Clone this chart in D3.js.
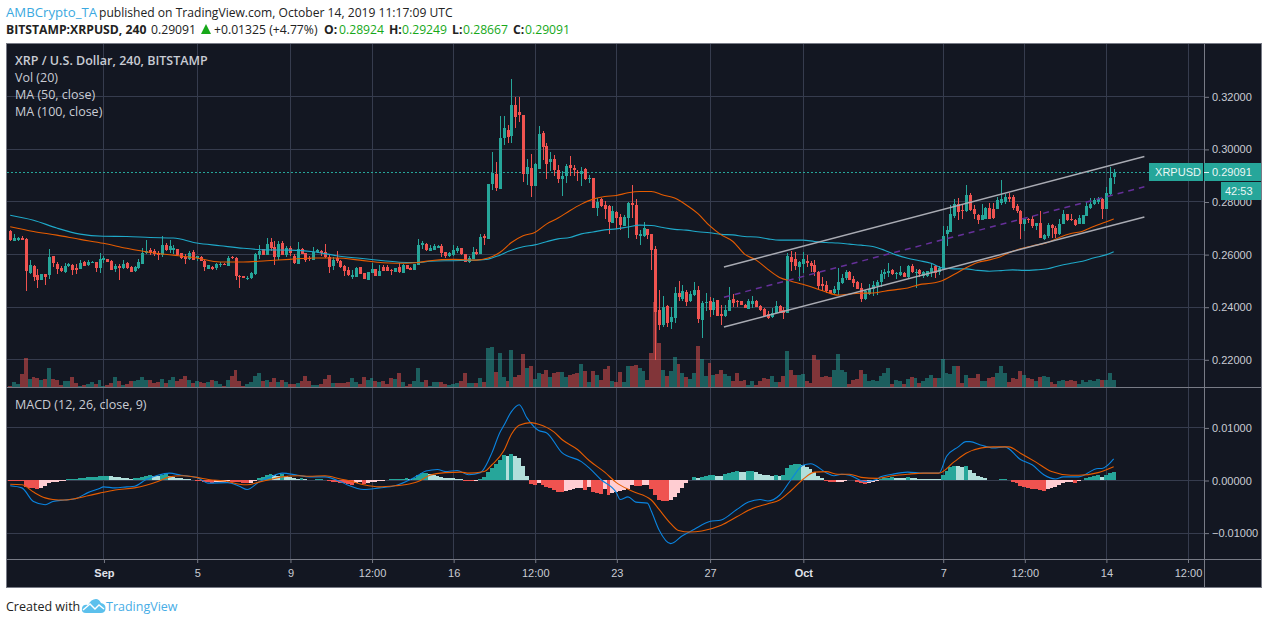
<!DOCTYPE html>
<html>
<head>
<meta charset="utf-8">
<title>XRPUSD</title>
<script src="https://cdn.jsdelivr.net/npm/d3@7/dist/d3.min.js"></script>
<style>
  html, body { margin: 0; padding: 0; background: #fff; }
  svg { display: block; }
  text { font-family: "Open Sans", sans-serif; }
  .axis text { font-family: "Liberation Sans", Arial, sans-serif; font-size: 11px; fill: #c9ccd4; }
  .axis .domain { display: none; }
  .axis line { stroke: #787b86; }
</style>
</head>
<body>
<div id="chart"></div>
<script>
// candles, 4h bars
const opens = [
  .2689,.2651,.2654,.2662,.2658,.2528,.2556,.2522,.2503,.2524,
  .2519,.2594,.2563,.2547,.2533,.2553,.2559,.2548,.2544,.2571,
  .2559,.2567,.2571,.2548,.2576,.2581,.2575,.2544,.2556,.2548,
  .2567,.2552,.2537,.2548,.2563,.2605,.2616,.2613,.2605,.2597,
  .2635,.2616,.2616,.2620,.2604,.2590,.2582,.2609,.2586,.2590,
  .2575,.2544,.2552,.2548,.2559,.2563,.2556,.2590,.2586,.2518,
  .2518,.2508,.2508,.2524,.2597,.2620,.2597,.2647,.2628,.2590,
  .2643,.2597,.2624,.2594,.2563,.2620,.2605,.2587,.2578,.2609,
  .2613,.2609,.2590,.2556,.2586,.2575,.2554,.2541,.2514,.2514,
  .2552,.2529,.2503,.2529,.2544,.2518,.2552,.2552,.2541,.2533,
  .2552,.2529,.2559,.2549,.2541,.2559,.2635,.2639,.2613,.2616,
  .2625,.2632,.2609,.2594,.2597,.2613,.2624,.2601,.2571,.2582,
  .2609,.2601,.2670,.2658,.2867,.2905,.2848,.3042,.3072,.3049,
  .3167,.3141,.3129,.2905,.2928,.2860,.2924,.3061,.3011,.2951,
  .2962,.2920,.2886,.2898,.2939,.2927,.2913,.2905,.2924,.2889,
  .2890,.2776,.2810,.2787,.2784,.2719,.2761,.2742,.2708,.2738,
  .2795,.2787,.2670,.2670,.2696,.2677,.2620,.2389,.2332,.2404,
  .2343,.2358,.2453,.2430,.2457,.2423,.2446,.2465,.2351,.2415,
  .2423,.2389,.2427,.2373,.2366,.2385,.2430,.2423,.2423,.2408,
  .2392,.2411,.2423,.2404,.2392,.2373,.2362,.2377,.2404,.2389,
  .2377,.2590,.2582,.2552,.2563,.2575,.2567,.2559,.2533,.2487,
  .2484,.2465,.2453,.2465,.2491,.2510,.2533,.2506,.2495,.2472,
  .2430,.2449,.2468,.2480,.2495,.2525,.2529,.2540,.2525,.2522,
  .2529,.2514,.2556,.2529,.2540,.2518,.2518,.2533,.2556,.2533,
  .2544,.2677,.2685,.2746,.2791,.2766,.2762,.2823,.2770,.2747,
  .2730,.2735,.2777,.2773,.2770,.2796,.2800,.2819,.2819,.2781,
  .2762,.2716,.2735,.2732,.2705,.2720,.2656,.2667,.2709,.2701,
  .2675,.2713,.2751,.2732,.2728,.2713,.2716,.2743,.2777,.2792,
  .2800,.2811,.2772,.2829,.28924
];
const highs = [
  .2691,.2676,.2666,.2670,.2661,.2577,.2559,.2543,.2524,.2524,
  .2620,.2594,.2570,.2556,.2568,.2567,.2562,.2562,.2578,.2575,
  .2578,.2572,.2571,.2605,.2591,.2581,.2577,.2563,.2563,.2578,
  .2571,.2554,.2556,.2582,.2624,.2654,.2624,.2620,.2613,.2670,
  .2643,.2654,.2635,.2620,.2606,.2600,.2613,.2616,.2594,.2594,
  .2578,.2559,.2556,.2567,.2571,.2567,.2594,.2594,.2590,.2522,
  .2518,.2518,.2533,.2605,.2635,.2620,.2662,.2662,.2651,.2651,
  .2651,.2632,.2632,.2600,.2647,.2623,.2605,.2594,.2628,.2619,
  .2616,.2639,.2597,.2590,.2613,.2578,.2557,.2552,.2541,.2552,
  .2552,.2529,.2533,.2567,.2544,.2559,.2559,.2557,.2544,.2548,
  .2567,.2562,.2559,.2552,.2563,.2658,.2651,.2644,.2635,.2638,
  .2635,.2638,.2609,.2609,.2635,.2632,.2625,.2601,.2594,.2628,
  .2620,.2676,.2676,.2867,.2989,.2951,.3125,.3125,.3091,.3266,
  .3198,.3198,.3129,.2962,.2981,.2947,.3087,.3068,.3023,.2989,
  .2977,.2939,.2917,.2943,.2973,.2939,.2920,.2932,.2927,.2901,
  .2890,.2814,.2814,.2803,.2787,.2784,.2765,.2753,.2749,.2799,
  .2863,.2810,.2692,.2723,.2696,.2677,.2632,.2465,.2442,.2408,
  .2400,.2476,.2499,.2484,.2465,.2461,.2495,.2480,.2423,.2453,
  .2438,.2434,.2427,.2408,.2408,.2476,.2449,.2427,.2423,.2410,
  .2430,.2442,.2425,.2408,.2395,.2385,.2396,.2423,.2406,.2400,
  .2605,.2613,.2609,.2575,.2609,.2597,.2575,.2578,.2537,.2514,
  .2499,.2465,.2480,.2548,.2525,.2540,.2537,.2518,.2499,.2491,
  .2465,.2487,.2499,.2503,.2540,.2544,.2567,.2544,.2533,.2556,
  .2532,.2559,.2563,.2544,.2544,.2537,.2537,.2567,.2559,.2556,
  .2708,.2708,.2787,.2810,.2814,.2789,.2861,.2834,.2785,.2751,
  .2789,.2780,.2796,.2796,.2819,.2880,.2829,.2833,.2823,.2789,
  .2766,.2739,.2739,.2743,.2720,.2762,.2675,.2720,.2716,.2705,
  .2735,.2766,.2754,.2751,.2735,.2747,.2749,.2800,.2815,.2815,
  .2819,.2815,.2854,.2933,.29249
];
const lows = [
  .2651,.2648,.2651,.2653,.2458,.2524,.2499,.2470,.2503,.2484,
  .2506,.2552,.2523,.2533,.2530,.2552,.2522,.2525,.2543,.2553,
  .2556,.2565,.2533,.2527,.2568,.2571,.2541,.2533,.2503,.2544,
  .2543,.2533,.2533,.2544,.2563,.2601,.2597,.2594,.2578,.2590,
  .2613,.2605,.2601,.2594,.2581,.2563,.2578,.2576,.2575,.2572,
  .2537,.2544,.2541,.2541,.2552,.2559,.2556,.2581,.2503,.2472,
  .2508,.2503,.2506,.2522,.2582,.2597,.2597,.2613,.2559,.2578,
  .2597,.2590,.2594,.2563,.2563,.2600,.2571,.2575,.2578,.2605,
  .2594,.2587,.2529,.2541,.2567,.2548,.2518,.2518,.2506,.2514,
  .2525,.2504,.2503,.2529,.2515,.2518,.2537,.2535,.2522,.2533,
  .2529,.2529,.2544,.2541,.2541,.2559,.2619,.2613,.2613,.2615,
  .2623,.2590,.2587,.2590,.2594,.2606,.2597,.2571,.2567,.2582,
  .2597,.2600,.2635,.2658,.2844,.2841,.2848,.3015,.3023,.3023,
  .3080,.3103,.2875,.2863,.2818,.2860,.2924,.2958,.2886,.2917,
  .2898,.2871,.2822,.2871,.2898,.2898,.2879,.2860,.2882,.2871,
  .2776,.2746,.2780,.2734,.2677,.2719,.2696,.2692,.2708,.2662,
  .2738,.2658,.2635,.2666,.2658,.2540,.2199,.2313,.2324,.2324,
  .2316,.2339,.2423,.2423,.2404,.2419,.2442,.2339,.2282,.2385,
  .2362,.2370,.2366,.2332,.2362,.2385,.2400,.2400,.2408,.2394,
  .2392,.2396,.2399,.2385,.2363,.2354,.2358,.2377,.2375,.2354,
  .2377,.2537,.2540,.2499,.2529,.2552,.2533,.2518,.2468,.2461,
  .2453,.2453,.2446,.2446,.2487,.2503,.2503,.2476,.2466,.2419,
  .2427,.2446,.2442,.2446,.2476,.2506,.2514,.2522,.2506,.2518,
  .2513,.2510,.2529,.2472,.2514,.2510,.2514,.2514,.2510,.2522,
  .2544,.2632,.2685,.2738,.2730,.2733,.2760,.2762,.2735,.2713,
  .2728,.2735,.2735,.2735,.2770,.2785,.2789,.2800,.2766,.2758,
  .2656,.2686,.2720,.2701,.2690,.2660,.2652,.2663,.2663,.2660,
  .2671,.2713,.2724,.2724,.2705,.2713,.2715,.2743,.2773,.2785,
  .2791,.2735,.2770,.2823,.28667
];
const closes = [
  .2652,.2660,.2662,.2654,.2534,.2559,.2514,.2503,.2524,.2514,
  .2590,.2567,.2544,.2537,.2556,.2563,.2538,.2541,.2567,.2556,
  .2571,.2570,.2549,.2581,.2586,.2571,.2541,.2556,.2549,.2563,
  .2548,.2533,.2552,.2571,.2605,.2613,.2605,.2600,.2597,.2635,
  .2616,.2632,.2624,.2597,.2585,.2580,.2605,.2578,.2592,.2575,
  .2552,.2559,.2544,.2563,.2563,.2559,.2586,.2585,.2518,.2516,
  .2508,.2510,.2529,.2601,.2613,.2597,.2639,.2624,.2590,.2639,
  .2597,.2624,.2603,.2566,.2620,.2601,.2578,.2582,.2609,.2616,
  .2604,.2590,.2552,.2578,.2575,.2552,.2537,.2522,.2522,.2548,
  .2525,.2506,.2533,.2544,.2518,.2537,.2537,.2537,.2537,.2548,
  .2533,.2559,.2544,.2541,.2563,.2635,.2644,.2616,.2625,.2630,
  .2632,.2605,.2594,.2604,.2616,.2625,.2600,.2571,.2586,.2609,
  .2601,.2666,.2663,.2867,.2909,.2851,.3042,.3080,.3046,.3167,
  .3122,.3129,.2906,.2932,.2860,.2943,.3057,.3008,.2943,.2962,
  .2920,.2886,.2898,.2935,.2928,.2920,.2909,.2917,.2886,.2890,
  .2776,.2799,.2784,.2772,.2723,.2765,.2738,.2711,.2742,.2795,
  .2787,.2673,.2677,.2700,.2673,.2616,.2381,.2332,.2400,.2339,
  .2362,.2453,.2438,.2461,.2419,.2449,.2465,.2354,.2415,.2419,
  .2389,.2419,.2366,.2366,.2389,.2427,.2415,.2419,.2408,.2396,
  .2423,.2423,.2400,.2389,.2366,.2358,.2377,.2404,.2377,.2377,
  .2594,.2571,.2556,.2571,.2582,.2567,.2556,.2533,.2480,.2480,
  .2461,.2453,.2468,.2495,.2510,.2533,.2503,.2491,.2468,.2430,
  .2461,.2468,.2484,.2495,.2525,.2533,.2537,.2525,.2529,.2533,
  .2514,.2556,.2533,.2533,.2525,.2533,.2537,.2548,.2529,.2548,
  .2670,.2692,.2753,.2791,.2761,.2762,.2823,.2766,.2751,.2728,
  .2747,.2777,.2735,.2739,.2804,.2811,.2819,.2811,.2777,.2762,
  .2716,.2735,.2728,.2705,.2720,.2660,.2671,.2709,.2701,.2675,
  .2713,.2751,.2728,.2728,.2709,.2739,.2747,.2781,.2789,.2804,
  .2808,.2773,.2834,.2891,.29091
];
// volume has no axis in the picture, so these are relative units
const volumes = [
  4,16,10,40,88,25,31,27,22,25, 58,25,22,7,19,17,31,13,4,6,
  10,16,10,22,4,6,13,31,19,7, 10,19,19,22,31,22,22,13,16,25,
  13,22,31,19,25,34,22,13,19,16, 13,16,22,19,10,4,22,34,52,19,
  4,10,16,34,43,19,22,16,28,16, 22,16,10,10,13,19,34,19,7,7,
  10,25,37,13,13,13,13,16,28,16, 10,31,22,28,19,16,19,10,28,25,
  43,16,4,10,19,58,15,21,3,15, 15,15,9,6,9,12,18,42,12,12,
  12,27,15,117,120,45,102,30,18,111, 30,36,99,57,63,24,42,39,51,30,
  42,45,45,30,36,39,42,69,48,15, 48,36,21,54,63,18,15,45,15,63,
  63,66,57,48,21,102,255,131,51,33, 48,90,69,42,30,24,42,123,84,33,
  72,36,39,51,39,33,18,42,18,21, 6,18,6,18,27,24,33,15,15,33,
  108,51,36,36,39,18,12,96,81,30, 33,30,51,99,51,45,9,21,24,51,
  39,18,21,18,33,42,57,9,21,18, 9,24,30,27,12,18,27,36,27,27,
  85,42,40,64,64,12,37,27,27,40, 18,17,28,30,42,64,42,15,27,24,
  49,36,28,24,18,30,33,30,15,9, 19,20,19,21,18,9,21,15,21,18,
  24,20,21,43,21
];

// moving averages, read every few bars
const maBars = [0,6,12,18,24,30,36,42,48,54,60,66,72,78,84,90,96,102,105,108,114,120,123,126,129,132,135,138,141,144,147,150,153,156,159,162,165,168,171,174,177,180,183,186,189,192,195,198,201,204,207,210,213,216,219,222,225,228,231,234,237,240,243,246,249,252,255,258,261,264,267,270,273,276,279,282,284];
const ma100 = [.2748,.2729,.2699,.2676,.2668,.2667,.2663,.2661,.2642,.2632,.2622,.2616,.2615,.2609,.2594,.2584,.2575,.2568,.2568,.2573,.2575,.2577,.2581,.2596,.2615,.2628,.2635,.2647,.2658,.2663,.2677,.2684,.2692,.2696,.2703,.2710,.2709,.2701,.2694,.2691,.2685,.2681,.2675,.2673,.2667,.2665,.2658,.2653,.2653,.2653,.2648,.2644,.2642,.2638,.2634,.2629,.2615,.2597,.2584,.2575,.2565,.2547,.2544,.2544,.2538,.2535,.2537,.2540,.2538,.2540,.2544,.2556,.2565,.2573,.2586,.2597,.2609];
const ma50 = [.2704,.2686,.2672,.2656,.2641,.2622,.2606,.2596,.2585,.2570,.2570,.2575,.2580,.2585,.2585,.2577,.2567,.2565,.2568,.2575,.2580,.2577,.2585,.2606,.2644,.2670,.2682,.2714,.2737,.2765,.2790,.2809,.2819,.2823,.2833,.2838,.2838,.2825,.2813,.2787,.2754,.2708,.2673,.2648,.2600,.2577,.2542,.2511,.2497,.2485,.2471,.2456,.2444,.2448,.2451,.2452,.2459,.2465,.2471,.2484,.2489,.2500,.2523,.2548,.2568,.2578,.2591,.2611,.2624,.2634,.2644,.2663,.2678,.2687,.2706,.2722,.2734];

// MACD values in units of 0.0001
const macdBars = [0,3,6,9,11,14,17,20,23,24,27,30,32,35,38,41,44,48,51,56,59,61,64,67,70,74,77,81,85,87,91,95,99,103,105,107,110,112,115,118,121,124,126,127,129,131,133,136,138,142,147,149,152,156,157,159,161,164,165,167,170,173,176,180,183,187,190,193,195,198,201,204,206,210,212,214,216,220,223,224,227,231,235,239,241,244,246,247,250,253,256,260,263,266,269,271,275,280,281,284];
const macdLine = [-11,-15,-41,-47,-41,-38,-35,-24,-16,-13,-15,-13,-12,1,9,13,9,5,-6,-5,-12,-18,-4,6,13,9,6,6,-3,-10,-18,-15,-11,1,9,17,20,16,18,10,14,52,90,103,130,143,118,94,90,52,35,23,1,-24,-37,-32,-42,-44,-59,-95,-121,-106,-94,-79,-76,-56,-42,-37,-40,-29,1,28,31,14,8,11,9,-3,1,6,11,15,13,13,45,63,73,73,66,61,63,39,29,10,2,6,6,22,22,40];
const signalBars = [0,3,6,9,11,14,17,20,23,27,32,35,38,41,44,48,51,56,59,61,64,67,70,74,77,81,85,87,91,95,99,103,105,108,112,116,118,122,124,127,129,131,134,136,140,142,146,149,153,156,160,165,167,170,172,175,178,183,187,191,195,198,201,204,207,210,213,216,219,223,227,231,235,239,243,246,250,253,257,260,264,268,273,275,280,284];
const signalLine = [-8,-9,-23,-34,-37,-38,-35,-30,-25,-19,-15,-10,-3,6,8,5,1,-3,-8,-9,-4,1,6,8,7,8,2,-1,-9,-13,-11,-7,-3,9,14,15,13,16,29,55,87,104,109,106,91,77,58,37,15,-5,-21,-38,-56,-83,-96,-99,-97,-86,-70,-54,-45,-38,-20,1,15,16,11,11,5,3,8,11,13,13,35,51,61,63,63,51,34,16,9,9,14,25];
const macdHist = [
  -2,-2,-2,-2,-13,-16,-16,-18,-16,-11, -6,-4,-3,-1,-1,1,1,2,4,4,
  5,6,6,8,8,8,7,6,5,4, 3,2,3,4,6,8,10,8,7,10,
  11,8,6,4,3,2,1,0,-1,-2, -3,-4,-5,-4,-3,-3,-2,-3,-4,-4,
  -6,-6,-5,-2,3,6,9,11,9,8, 11,7,5,4,1,3,1,0,0,1,
  1,0,-1,-3,-4,-5,-6,-8,-9,-5, -3,-7,-6,-3,-3,-1,-1,0,1,1,
  1,2,3,2,4,9,13,13,11,9, 8,6,4,4,3,2,1,-2,-2,-2,
  -1,1,5,15,22,30,38,47,46,50, 46,42,27,8,-8,-10,-5,-9,-14,-15,
  -19,-22,-23,-21,-19,-17,-16,-15,-19,-13, -23,-25,-27,-18,-28,-24,-22,-20,-19,-18,
  -10,-11,-12,-10,-9,-18,-28,-38,-39,-40, -38,-32,-24,-16,-6,0,6,3,5,8,
  9,10,8,8,11,13,15,17,16,15, 17,17,15,12,10,9,8,9,8,9,
  22,28,30,30,29,24,21,16,8,4, -1,-4,-4,-3,-3,-1,0,0,-3,-6,
  -7,-6,-4,-1,1,3,4,5,4,4, 3,5,4,3,1,1,1,1,1,1,
  9,17,25,27,26,24,26,19,14,8, 5,3,0,0,0,1,1,0,-3,-6,
  -11,-13,-16,-17,-18,-19,-20,-18,-16,-14, -9,-5,-4,-4,-5,-1,0,3,5,7,
  9,6,9,13,16
];

// hand drawn channel, [bar, price] ends
const channelBars = [183.7, 291.9];
const channelUpper = [.2551, .2971];
const channelMiddle = [.2436, .2856];
const channelLower = [.2323, .2741];

const lastPrice = .29091;

// axis ticks
const priceTicks = [.22, .24, .26, .28, .30, .32];
const macdTicks = [-100, 0, 100];
const timeTickBars = [24,48,72,93,114,135,156,180,204,240,261,282,303];
const timeTickLabels = ['Sep','5','9','12:00','16','12:00','23','27','Oct','7','12:00','14','12:00'];

const legendLines = ['Vol (20)', 'MA (50, close)', 'MA (100, close)'];

const colors = {
  bg: '#131722', grid: '#363c4e', frame: '#787b86',
  up: '#26a69a', down: '#ef5350', upLight: '#b2dfdb', downLight: '#ffcdd2',
  ma50: '#e65c00', ma100: '#1fa9c9', macd: '#0a84e0', signal: '#e65c00',
  channel: '#a9abb3', channelMid: '#66309a'
};

const width = 1274, height = 624;
const paneLeft = 7, paneRight = 1204, panelRight = 1261;
const paneTop = 44, mainBottom = 387, macdBottom = 559, panelBottom = 587;

const svg = d3.select('#chart').append('svg')
  .attr('width', width)
  .attr('height', height);

const x = d3.scaleLinear().domain([0, 303]).range([10.2, 1187.5]);
const y = d3.scaleLinear().domain([.22, .32]).range([359.3, 96.3]);
const yVol = d3.scaleLinear().domain([0, 300]).range([mainBottom, mainBottom - 100]);
const yMacd = d3.scaleLinear().domain([-100, 100]).range([532.6, 427.4]);

const bars = d3.range(closes.length);

// panel background
svg.append('rect')
  .attr('x', paneLeft - 1).attr('y', paneTop - 1)
  .attr('width', panelRight - paneLeft + 2).attr('height', panelBottom - paneTop + 2)
  .attr('fill', colors.bg);

// grid
const snap = v => Math.round(v) + .5;
const grid = svg.append('g').attr('stroke', colors.grid).attr('stroke-width', 1);
grid.selectAll('.vgrid').data(timeTickBars).enter().append('line')
  .attr('x1', d => snap(x(d))).attr('x2', d => snap(x(d)))
  .attr('y1', paneTop).attr('y2', macdBottom);
grid.selectAll('.pgrid').data(priceTicks).enter().append('line')
  .attr('x1', paneLeft).attr('x2', paneRight)
  .attr('y1', d => snap(y(d))).attr('y2', d => snap(y(d)));
grid.selectAll('.mgrid').data(macdTicks).enter().append('line')
  .attr('x1', paneLeft).attr('x2', paneRight)
  .attr('y1', d => snap(yMacd(d))).attr('y2', d => snap(yMacd(d)));

// left and right edge of a full width column for bar i
const colLeft = i => Math.round(x(i) - 2);
const colRight = i => Math.round(x(i + 1) - 2);

// volume
svg.append('g').attr('shape-rendering', 'crispEdges')
  .selectAll('rect').data(bars).enter().append('rect')
  .attr('x', colLeft)
  .attr('width', i => colRight(i) - colLeft(i))
  .attr('y', i => yVol(volumes[i]))
  .attr('height', i => yVol(0) - yVol(volumes[i]))
  .attr('fill', i => closes[i] >= opens[i] ? colors.up : colors.down)
  .attr('fill-opacity', .5);

// last price line
svg.append('line')
  .attr('x1', paneLeft).attr('x2', 1149)
  .attr('y1', Math.floor(y(lastPrice)) + .5).attr('y2', Math.floor(y(lastPrice)) + .5)
  .attr('stroke', colors.up).attr('stroke-dasharray', '2 2');

// candles
const candles = svg.append('g').attr('shape-rendering', 'crispEdges');
candles.selectAll('.wick').data(bars).enter().append('line')
  .attr('x1', i => Math.round(x(i)) + .5).attr('x2', i => Math.round(x(i)) + .5)
  .attr('y1', i => y(highs[i])).attr('y2', i => y(lows[i]))
  .attr('stroke', i => closes[i] >= opens[i] ? colors.up : colors.down);
candles.selectAll('.body').data(bars).enter().append('rect')
  .attr('x', i => Math.round(x(i)) - 1)
  .attr('width', 3)
  .attr('y', i => y(Math.max(opens[i], closes[i])))
  .attr('height', i => Math.max(1, Math.abs(y(opens[i]) - y(closes[i]))))
  .attr('fill', i => closes[i] >= opens[i] ? colors.up : colors.down);

// moving averages
const maLine = d3.line()
  .x(d => x(d[0]))
  .y(d => y(d[1]))
  .curve(d3.curveMonotoneX);

svg.append('path')
  .attr('d', maLine(maBars.map((b, i) => [b, ma100[i]])))
  .attr('fill', 'none').attr('stroke', colors.ma100).attr('stroke-width', 1.1);
svg.append('path')
  .attr('d', maLine(maBars.map((b, i) => [b, ma50[i]])))
  .attr('fill', 'none').attr('stroke', colors.ma50).attr('stroke-width', 1.1);

// channel
const chanLine = d3.line().x(d => x(d[0])).y(d => y(d[1]));
const chanPoints = a => channelBars.map((b, i) => [b, a[i]]);
[channelUpper, channelLower].forEach(a => {
  svg.append('path').attr('d', chanLine(chanPoints(a)))
    .attr('fill', 'none').attr('stroke', colors.channel).attr('stroke-width', 1.5);
});
svg.append('path').attr('d', chanLine(chanPoints(channelMiddle)))
  .attr('fill', 'none').attr('stroke', colors.channelMid).attr('stroke-width', 1.5)
  .attr('stroke-dasharray', '6 5');

// MACD histogram, colour follows the direction of the bars
let rising = false;
const histFill = bars.map(i => {
  if (i > 0 && macdHist[i] !== macdHist[i - 1]) rising = macdHist[i] > macdHist[i - 1];
  if (macdHist[i] >= 0) return rising ? colors.up : colors.upLight;
  return rising ? colors.downLight : colors.down;
});
svg.append('g').attr('shape-rendering', 'crispEdges')
  .selectAll('rect').data(bars).enter().append('rect')
  .attr('x', colLeft)
  .attr('width', i => colRight(i) - colLeft(i))
  .attr('y', i => Math.min(yMacd(macdHist[i]), yMacd(0)))
  .attr('height', i => Math.abs(yMacd(macdHist[i]) - yMacd(0)))
  .attr('fill', i => histFill[i]);

const macdPath = d3.line()
  .x(d => x(d[0]))
  .y(d => yMacd(d[1]))
  .curve(d3.curveMonotoneX);
svg.append('path')
  .attr('d', macdPath(macdBars.map((b, i) => [b, macdLine[i]])))
  .attr('fill', 'none').attr('stroke', colors.macd).attr('stroke-width', 1.1);
svg.append('path')
  .attr('d', macdPath(signalBars.map((b, i) => [b, signalLine[i]])))
  .attr('fill', 'none').attr('stroke', colors.signal).attr('stroke-width', 1.1);

// axes
svg.append('g').attr('class', 'axis')
  .attr('transform', `translate(${paneRight},0.5)`)
  .call(d3.axisRight(y).tickValues(priceTicks).tickSize(5).tickPadding(3).tickFormat(d3.format('.5f')));
svg.append('g').attr('class', 'axis')
  .attr('transform', `translate(${paneRight},0.5)`)
  .call(d3.axisRight(yMacd).tickValues(macdTicks).tickSize(5).tickPadding(3)
    .tickFormat(d => d3.format('.5f')(d / 10000).replace('-', '\u2212')));

const timeAxis = svg.append('g').attr('class', 'axis')
  .attr('transform', `translate(0.5,${macdBottom})`)
  .call(d3.axisBottom(x).tickValues(timeTickBars).tickSize(4).tickPadding(6)
    .tickFormat((d, i) => timeTickLabels[i]));
timeAxis.selectAll('text')
  .attr('font-weight', (d, i) => /[A-Za-z]/.test(timeTickLabels[i]) ? 'bold' : null)
  .style('fill', (d, i) => /[A-Za-z]/.test(timeTickLabels[i]) ? '#e0e3eb' : null);

// pane borders
const frame = svg.append('g').attr('stroke', colors.frame).attr('fill', 'none').attr('stroke-width', 1)
  .attr('shape-rendering', 'crispEdges');
frame.append('rect').attr('x', paneLeft - .5).attr('y', paneTop - .5)
  .attr('width', panelRight - paneLeft + 1).attr('height', panelBottom - paneTop + 1);
frame.append('line').attr('x1', paneLeft).attr('x2', panelRight).attr('y1', mainBottom + .5).attr('y2', mainBottom + .5);
frame.append('line').attr('x1', paneLeft).attr('x2', panelRight).attr('y1', macdBottom + .5).attr('y2', macdBottom + .5);
frame.append('line').attr('x1', paneRight + .5).attr('x2', paneRight + .5).attr('y1', paneTop).attr('y2', panelBottom);

// price labels on the right
svg.append('rect').attr('x', 1149).attr('y', 163).attr('width', 54).attr('height', 18).attr('fill', colors.up);
svg.append('rect').attr('x', 1204).attr('y', 163).attr('width', 57).attr('height', 18).attr('fill', colors.up);
svg.append('rect').attr('x', 1221).attr('y', 182).attr('width', 40).attr('height', 18).attr('fill', colors.up);
svg.append('line').attr('x1', 1204).attr('x2', 1209).attr('y1', 172.5).attr('y2', 172.5).attr('stroke', '#e6f4f3');
const axisFont = '"Liberation Sans", Arial, sans-serif';
svg.append('text').attr('x', 1178).attr('y', 176).attr('text-anchor', 'middle')
  .attr('font-size', 11).attr('fill', '#eaf6f5').style('font-family', axisFont).text('XRPUSD');
svg.append('text').attr('x', 1212).attr('y', 176)
  .attr('font-size', 11).attr('fill', '#eaf6f5').style('font-family', axisFont).text(d3.format('.5f')(lastPrice));
svg.append('text').attr('x', 1225).attr('y', 195)
  .attr('font-size', 11).attr('fill', '#eaf6f5').style('font-family', axisFont).text('42:53');

// pane legends
svg.append('text').attr('x', 15).attr('y', 65).attr('font-size', 12.5).attr('font-weight', 600)
  .attr('fill', '#c9ccd4').text('XRP / U.S. Dollar, 240, BITSTAMP');
svg.selectAll('.legend').data(legendLines).enter().append('text')
  .attr('x', 15).attr('y', (d, i) => 82 + i * 17)
  .attr('font-size', 12.5).attr('fill', '#c9ccd4').text(d => d);
svg.append('text').attr('x', 15).attr('y', 409).attr('font-size', 12.5)
  .attr('fill', '#c9ccd4').text('MACD (12, 26, close, 9)');

// header above the chart
svg.append('text').attr('x', 6).attr('y', 17).attr('font-size', 13.2).attr('fill', '#3ba9e0').text('AMBCrypto_TA');
svg.append('text').attr('x', 99).attr('y', 17).attr('font-size', 12.1).attr('fill', '#222')
  .text('published on TradingView.com, October 14, 2019 11:17:09 UTC');

const green = '#17a81a';
const headerItems = [
  { t: 'BITSTAMP:XRPUSD, 240', x: 6, bold: true },
  { t: '0.29091', x: 151 },
  { t: '+0.01325 (+4.77%)', x: 214 },
  { t: 'O:', x: 324, bold: true }, { t: '0.28924', x: 339, fill: green },
  { t: 'H:', x: 389, bold: true }, { t: '0.29249', x: 402, fill: green },
  { t: 'L:', x: 452, bold: true }, { t: '0.28667', x: 463, fill: green },
  { t: 'C:', x: 513, bold: true }, { t: '0.29091', x: 525, fill: green }
];
svg.selectAll('.head').data(headerItems).enter().append('text')
  .attr('x', d => d.x).attr('y', 34)
  .attr('font-size', 12.2)
  .attr('font-weight', d => d.bold ? 700 : null)
  .attr('fill', d => d.fill || '#222')
  .text(d => d.t);
svg.append('path').attr('d', 'M201 34 L211 34 L206 24 Z').attr('fill', green);

// footer
svg.append('text').attr('x', 6).attr('y', 611).attr('font-size', 12.5).attr('fill', '#222').text('Created with');
svg.append('path')
  .attr('d', 'M86 613 Q81 613 82 608 Q83 604 88 605 Q91 599 96 599 Q99 599 101 603 Q106 604 105.5 609 Q105 613 101 613 Z')
  .attr('fill', '#5cc0ec');
svg.append('path')
  .attr('d', 'M83 610 L90 604 L95 609 L99 605 L104 609')
  .attr('fill', 'none').attr('stroke', '#fff').attr('stroke-width', 1.4);
svg.append('text').attr('x', 106).attr('y', 611).attr('font-size', 12.5).attr('fill', '#47ade6').text('TradingView');
</script>
</body>
</html>
